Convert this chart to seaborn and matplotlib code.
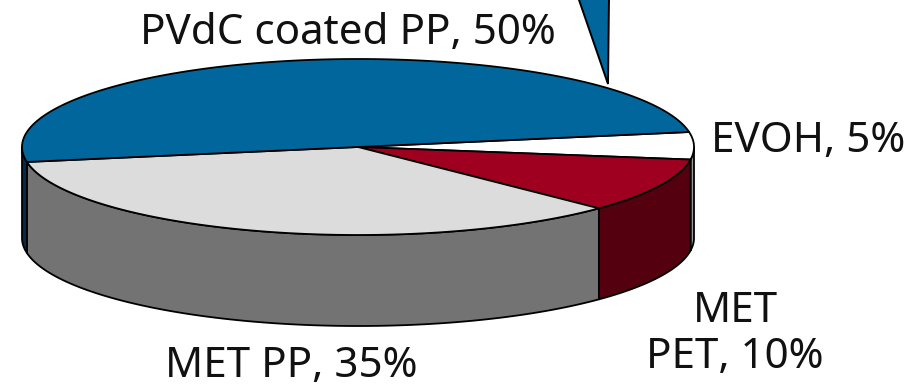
import numpy as np
import matplotlib
matplotlib.use("Agg")
import matplotlib.pyplot as plt
import seaborn as sns

# Film types, clockwise from the first wedge
materials = ["EVOH", "MET PET", "MET PP", "PVdC coated PP"]
shares = [5, 10, 35, 50]
top_colors = ["#ffffff", "#a00020", "#dcdcdc", "#00669c"]
side_colors = ["#9a9a9a", "#55000f", "#737373", "#002c48"]
labels = ["EVOH, 5%", "MET\nPET, 10%", "MET PP, 35%", "PVdC coated PP, 50%"]
label_anchors = [(808, 141), (735, 334), (291, 366), (348, 33)]

sns.set_theme(style="white")
plt.rcParams["font.family"] = ["Noto Sans", "DejaVu Sans"]

CX, CY, RX, RY, DEPTH = 358, 147, 336, 88, 91
START_ANGLE = 9.8
EDGE = dict(edgecolor="black", linewidth=1.3, joinstyle="round")

fig = plt.figure(figsize=(9.21, 3.87), dpi=100)
ax = fig.add_axes([0, 0, 1, 1])
ax.set_xlim(0, 921)
ax.set_ylim(387, 0)
ax.axis("off")


def rim(a0, a1, drop=0.0):
    """Points along the tilted disc rim between two angles in degrees."""
    t = np.radians(np.linspace(a0, a1, max(int(abs(a1 - a0)) * 2, 2)))
    return CX + RX * np.cos(t), CY - RY * np.sin(t) + drop


edges = START_ANGLE - np.cumsum([0] + shares) * 3.6

# Side walls first: only the part of each wedge facing the viewer (angles -180..0)
for a0, a1, color in zip(edges[:-1], edges[1:], side_colors):
    lo, hi = max(a1, -180), min(a0, 0)
    if lo >= hi:
        continue
    xt, yt = rim(hi, lo)
    xb, yb = rim(lo, hi, DEPTH)
    ax.fill(np.r_[xt, xb], np.r_[yt, yb], facecolor=color, **EDGE)

# Top faces
for a0, a1, color in zip(edges[:-1], edges[1:], top_colors):
    x, y = rim(a0, a1)
    ax.fill(np.r_[CX, x], np.r_[CY, y], facecolor=color, **EDGE)

# Callout pointer of the largest wedge, running off the top edge
ax.fill([578, 609, 608], [-3, -3, 84], facecolor=top_colors[3], edgecolor="black", linewidth=1.4)

for text, (x, y) in zip(labels, label_anchors):
    ax.text(x, y, text, ha="center", va="center", fontsize=30.3,
            color="#111111", linespacing=1.13)

fig.savefig("out.png", dpi=100)
